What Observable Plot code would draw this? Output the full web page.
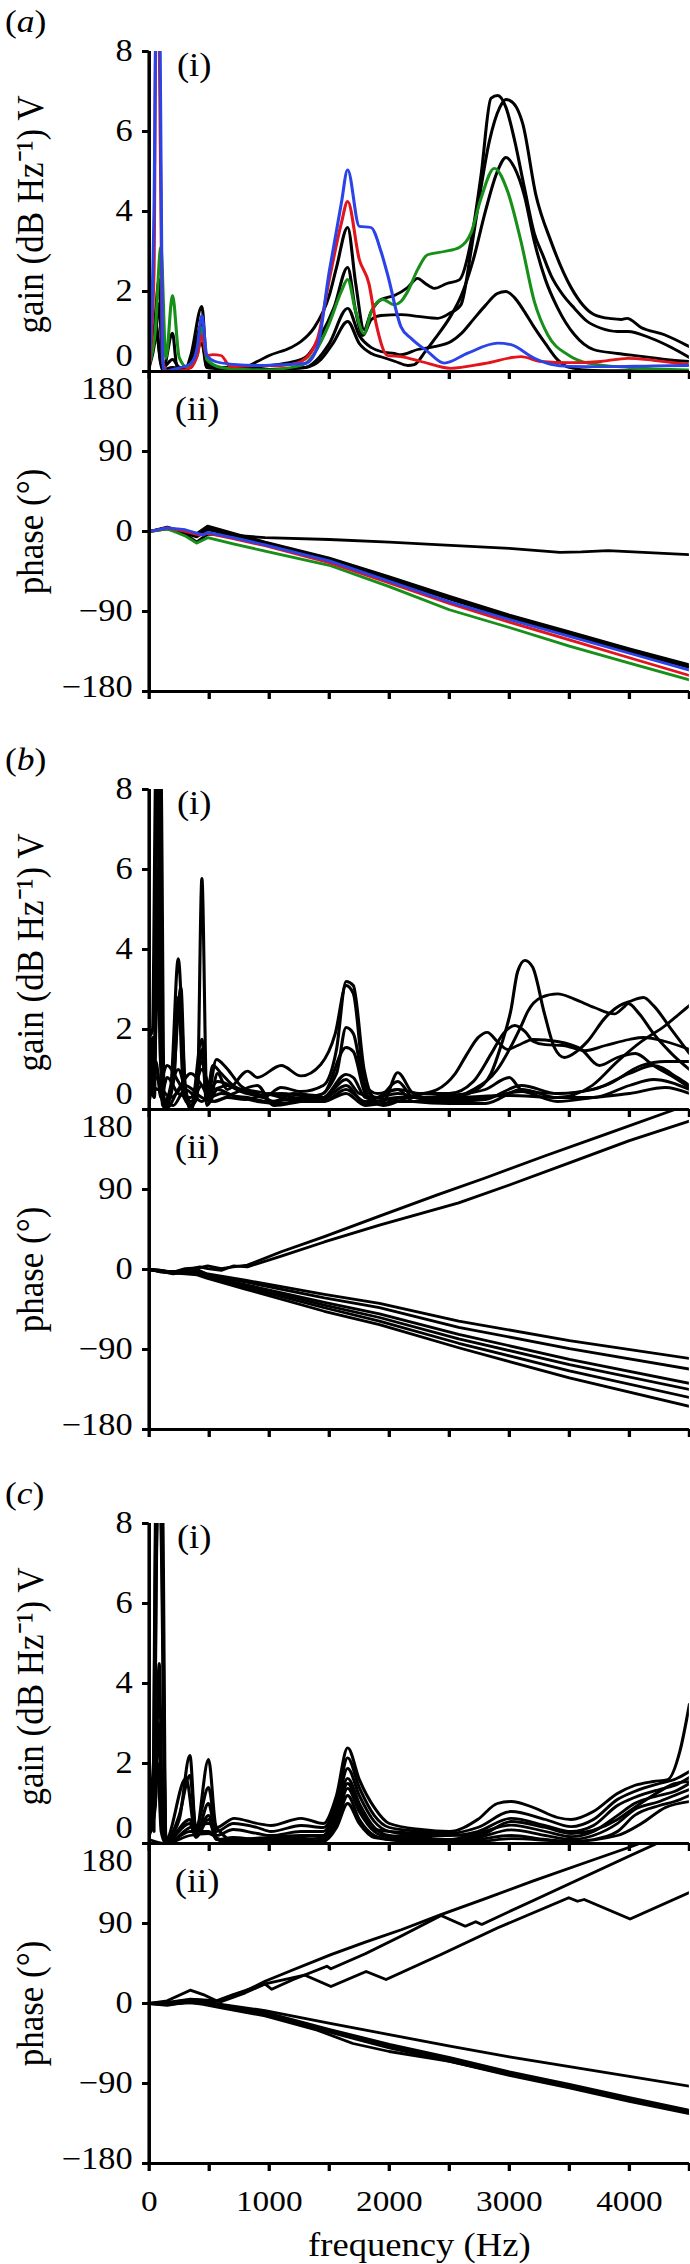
<!DOCTYPE html>
<html><head><meta charset="utf-8">
<script src="https://cdn.jsdelivr.net/npm/d3@7"></script>
<script src="https://cdn.jsdelivr.net/npm/@observablehq/plot@0.6"></script>
<style>
html,body{margin:0;padding:0;background:#fff;overflow:hidden;}
#wrap{position:relative;width:622px;height:2264px;transform:scaleX(1.1093);transform-origin:0 0;}
#wrap svg{position:absolute;left:0;}
</style></head><body><div id="wrap"></div>
<script>
// ---- ticks & labels ----
const freqTicks = [0,500,1000,1500,2000,2500,3000,3500,4000,4500];
const freqLabels = [0,1000,2000,3000,4000];
const gainTicks = [0,2,4,6,8];
const phaseTicks = [-180,-90,0,90,180];
const GAIN_TITLE = "gain (dB Hz⁻¹) V";
const PHASE_TITLE = "phase (°)";
const X_TITLE = "frequency (Hz)";
const panelTags = ["(i)","(ii)"];

// ---- (a) gain: [frequency Hz, gain] ----
const aGainK1 = [[0,0.2],[40,1.0],[83,2.3],[115,0.05],[194,0.96],[230,0.15],[300,0.05],[347,0.4],[439,1.63],[480,0.2],[600,0.1],[800,0.12],[900,0.25],[1000,0.4],[1181,0.6],[1264,0.75],[1375,1.1],[1500,1.9],[1560,2.6],[1653,3.6],[1720,2.2],[1790,1.05],[1850,1.5],[1931,1.8],[2042,1.9],[2153,2.1],[2236,2.33],[2300,2.2],[2375,2.08],[2480,2.2],[2583,2.29],[2680,3.25],[2764,4.9],[2847,6.83],[2903,6.9],[2972,6.6],[3042,5.8],[3125,4.6],[3208,3.45],[3280,2.9],[3347,2.4],[3450,1.9],[3542,1.58],[3650,1.25],[3764,1.08],[3900,1.0],[3986,1.0],[4181,0.83],[4350,0.6],[4500,0.35]];
const aGainK2 = [[0,0.1],[50,0.8],[83,1.7],[115,0.1],[194,0.3],[264,0.05],[347,0.2],[439,1.2],[480,0.15],[600,0.1],[800,0.1],[1000,0.15],[1200,0.25],[1300,0.35],[1430,0.9],[1540,1.6],[1653,2.6],[1720,1.5],[1780,0.9],[1850,1.3],[1931,1.4],[2097,1.42],[2236,1.38],[2403,1.33],[2500,1.45],[2597,1.67],[2680,3.0],[2736,4.08],[2833,5.75],[2920,6.6],[2972,6.8],[3000,6.78],[3060,6.6],[3111,6.2],[3222,4.4],[3347,3.25],[3514,2.1],[3708,1.42],[3850,1.32],[3931,1.3],[3980,1.33],[4097,1.1],[4292,0.92],[4500,0.62]];
const aGainK3 = [[0,0.3],[56,1.2],[97,0.2],[150,0.05],[264,0.1],[347,0.1],[439,0.9],[480,0.1],[700,0.05],[1000,0.05],[1300,0.1],[1400,0.3],[1500,0.7],[1653,1.58],[1750,0.9],[1850,0.6],[1931,0.5],[2042,0.45],[2097,0.42],[2236,0.55],[2375,0.62],[2514,0.75],[2600,0.95],[2700,1.3],[2800,1.65],[2900,1.95],[2972,2.0],[3042,1.85],[3125,1.5],[3208,1.1],[3300,0.7],[3400,0.3],[3500,0.1],[3700,0.03],[4000,0.02],[4500,0.0]];
const aGainK4 = [[0,0.15],[60,0.9],[110,0.05],[194,0.1],[300,0.05],[439,0.7],[480,0.1],[700,0.08],[1000,0.05],[1300,0.1],[1430,0.3],[1530,0.7],[1653,1.25],[1750,0.7],[1850,0.45],[1950,0.35],[2050,0.25],[2153,0.15],[2208,0.17],[2300,0.5],[2375,0.8],[2514,1.4],[2600,1.9],[2700,2.8],[2800,4.0],[2900,5.0],[2972,5.35],[3042,5.1],[3125,4.4],[3208,3.25],[3300,2.3],[3400,1.6],[3542,0.92],[3700,0.55],[3900,0.45],[4100,0.38],[4300,0.3],[4500,0.25]];
const aGainGreen = [[0,0.17],[50,1.0],[97,3.1],[139,0.33],[194,1.9],[250,0.35],[319,0.1],[400,0.4],[439,1.1],[480,0.3],[600,0.1],[800,0.05],[1000,0.04],[1181,0.1],[1300,0.2],[1375,0.45],[1500,1.2],[1600,2.0],[1653,2.3],[1720,1.5],[1790,0.95],[1850,1.5],[1944,1.8],[2042,1.67],[2097,1.75],[2153,2.0],[2236,2.55],[2319,2.92],[2458,3.0],[2583,3.1],[2680,3.46],[2764,4.33],[2875,5.08],[2986,4.5],[3097,3.25],[3208,1.75],[3319,0.92],[3486,0.42],[3653,0.21],[4000,0.1],[4500,0.04]];
const aGainRed = [[0,0.1],[40,2.5],[56,8.6],[83,8.6],[110,0.3],[150,0.0],[264,0.02],[347,0.1],[400,0.4],[439,0.9],[480,0.4],[530,0.42],[597,0.4],[680,0.12],[900,0.15],[1100,0.15],[1264,0.25],[1400,0.8],[1500,2.3],[1600,3.7],[1653,4.25],[1750,2.8],[1830,2.2],[1890,1.2],[1986,0.4],[2097,0.37],[2264,0.25],[2514,0.08],[2792,0.2],[3097,0.37],[3264,0.25],[3500,0.22],[3764,0.25],[3986,0.33],[4200,0.28],[4500,0.17]];
const aGainBlue = [[0,0.17],[40,4.0],[56,8.6],[90,8.6],[110,0.5],[125,0.0],[194,0.05],[264,0.1],[347,0.2],[400,0.6],[439,1.4],[480,0.4],[550,0.25],[700,0.18],[900,0.15],[1100,0.17],[1300,0.2],[1400,0.6],[1500,2.5],[1600,4.2],[1653,5.04],[1750,3.63],[1847,3.6],[1931,3.0],[1986,2.42],[2097,1.12],[2181,0.83],[2319,0.5],[2458,0.21],[2653,0.46],[2903,0.71],[3014,0.67],[3208,0.33],[3347,0.18],[3500,0.13],[3800,0.12],[4200,0.14],[4500,0.15]];

// ---- (a) phase: [frequency Hz, degrees] ----
const aPhaseK1 = [[0,0],[150,5],[300,-1],[400,-2],[487,6],[700,-2],[965,-12],[1500,-30],[2000,-51],[2500,-73],[3000,-94],[3500,-113],[4000,-132],[4500,-150]];
const aPhaseK2 = [[0,0],[150,4],[300,-2],[400,-4],[487,4],[700,-4],[965,-13],[1500,-31],[2000,-52],[2500,-75],[3000,-96],[3500,-115],[4000,-134],[4500,-152]];
const aPhaseK3 = [[0,0],[150,3],[300,-3],[396,-12],[487,-3],[700,-5],[965,-14],[1500,-32],[2000,-54],[2500,-76],[3000,-97],[3500,-116],[4000,-135],[4500,-153]];
const aPhaseFlat = [[0,0],[150,4],[300,-2],[396,-6],[487,2],[700,-4],[965,-7],[1500,-9],[2000,-12],[2431,-15],[3000,-19],[3422,-23.5],[3600,-23],[3822,-21.5],[4500,-26]];
const aPhaseGreen = [[0,0],[150,3],[300,-5],[396,-13],[487,-7],[700,-14],[965,-22],[1500,-38],[2000,-62],[2500,-88],[3000,-108],[3500,-129],[4000,-148],[4500,-167]];
const aPhaseRed = [[0,0],[150,4],[300,0],[420,-4],[487,-2],[700,-8],[965,-16],[1500,-35],[2000,-58],[2500,-81],[3000,-102],[3500,-122],[4000,-142],[4500,-162]];
const aPhaseBlue = [[0,0],[150,4],[300,2],[450,-4],[487,-1],[700,-7],[965,-15],[1500,-33],[2000,-56],[2500,-79],[3000,-99],[3500,-118],[4000,-137],[4500,-156]];

// ---- (b) gain ----
const bGain1 = [[0,1.8],[28,2.0],[56,8.6],[97,8.6],[125,0.2],[180,0.6],[242,3.77],[300,0.6],[347,0.1],[400,0.3],[439,5.78],[480,0.3],[530,1.1],[600,0.9],[700,0.6],[820,0.45],[950,0.3],[1100,0.55],[1264,0.45],[1450,0.6],[1560,1.5],[1640,3.2],[1700,3.1],[1790,1.0],[1875,0.3],[2000,0.25],[2200,0.2],[2400,0.3],[2600,0.35],[2700,0.45],[2847,0.9],[2931,1.6],[3014,2.5],[3069,3.45],[3130,3.73],[3194,3.56],[3292,2.4],[3375,1.55],[3458,1.3],[3560,1.45],[3650,1.7],[3800,2.3],[3920,2.6],[4000,2.7],[4118,2.8],[4200,2.6],[4350,2.0],[4500,1.4]];
const bGain2 = [[0,1.5],[40,0.3],[70,8.6],[85,8.6],[110,0.1],[200,0.8],[264,3.05],[300,0.5],[347,0.0],[439,1.76],[480,0.2],[560,1.25],[640,1.05],[760,0.6],[900,0.4],[1040,0.2],[1200,0.4],[1400,0.35],[1560,0.9],[1640,2.05],[1700,1.9],[1800,0.5],[1900,0.3],[2070,0.4],[2264,0.3],[2500,0.3],[2700,0.5],[2900,1.0],[3000,1.5],[3100,2.1],[3153,2.45],[3264,2.8],[3403,2.89],[3542,2.76],[3708,2.55],[3875,2.39],[3950,2.55],[3990,2.65],[4080,2.4],[4200,1.9],[4350,1.4],[4500,1.0]];
const bGain3 = [[0,0.4],[28,1.8],[45,0.3],[62,8.6],[75,8.6],[97,2.1],[125,0.0],[208,0.8],[242,2.8],[290,0.3],[347,0.1],[439,1.2],[500,0.2],[570,0.9],[650,0.5],[820,0.96],[900,0.8],[1100,1.1],[1264,0.84],[1430,1.13],[1550,1.9],[1640,3.1],[1700,2.9],[1800,0.6],[1900,0.4],[2070,0.5],[2264,0.4],[2500,0.4],[2700,0.7],[2850,1.4],[2950,1.9],[3045,2.1],[3130,1.95],[3200,1.7],[3300,1.62],[3450,1.6],[3625,1.47],[3800,1.6],[4000,1.75],[4118,1.8],[4300,1.7],[4500,1.5]];
const bGain4 = [[0,1.0],[40,0.4],[70,6.0],[90,1.5],[125,0.1],[242,1.0],[347,0.0],[400,0.6],[439,1.5],[480,0.1],[570,0.5],[700,0.35],[820,0.3],[1000,0.2],[1264,0.3],[1450,0.4],[1640,1.55],[1700,1.45],[1800,0.4],[1950,0.1],[2070,0.2],[2200,0.35],[2400,0.5],[2550,0.9],[2650,1.4],[2740,1.8],[2816,1.93],[2900,1.7],[2986,1.5],[3069,1.6],[3200,1.75],[3400,1.7],[3600,1.5],[3750,1.1],[3900,1.3],[4050,1.4],[4200,1.1],[4400,0.75],[4500,0.55]];
const bGain5 = [[0,0.3],[40,0.9],[83,4.0],[110,0.3],[150,0.05],[242,0.5],[347,0.9],[439,0.6],[500,0.3],[600,0.4],[760,0.3],[900,0.2],[1100,0.15],[1264,0.25],[1450,0.3],[1640,0.88],[1700,0.8],[1800,0.3],[1950,0.2],[2070,0.92],[2200,0.4],[2400,0.25],[2600,0.3],[3000,0.35],[3400,0.3],[3690,0.6],[3900,1.2],[4100,1.7],[4300,2.1],[4420,2.4],[4500,2.6]];
const bGain6 = [[0,0.6],[56,1.2],[97,0.3],[150,0.8],[242,0.4],[347,0.3],[439,1.0],[520,0.5],[650,0.6],[760,0.45],[900,0.35],[1100,0.4],[1264,0.35],[1450,0.3],[1640,0.75],[1750,0.4],[1900,0.3],[2070,0.7],[2200,0.3],[2500,0.2],[2800,0.25],[3100,0.6],[3400,0.4],[3700,0.5],[4000,0.9],[4200,1.1],[4400,0.8],[4500,0.6]];
const bGain7 = [[0,0.2],[56,0.8],[110,0.5],[180,0.3],[300,0.6],[439,0.3],[520,0.2],[650,0.3],[800,0.25],[1000,0.4],[1200,0.3],[1450,0.2],[1640,0.5],[1800,0.2],[2070,0.5],[2200,0.2],[2500,0.15],[2800,0.15],[3100,0.5],[3400,0.3],[3700,0.3],[4000,0.6],[4200,0.75],[4500,0.5]];
const bGain8 = [[0,0.8],[70,0.5],[150,1.1],[242,0.7],[347,0.2],[439,0.6],[540,0.2],[700,0.4],[900,0.6],[1040,0.1],[1264,0.2],[1450,0.25],[1640,0.6],[1800,0.15],[2070,0.3],[2200,0.3],[2500,0.35],[2800,0.5],[3000,0.8],[3100,0.5],[3400,0.4],[3800,0.6],[4100,1.1],[4300,1.2],[4500,1.2]];
const bGain9 = [[0,0.4],[60,1.0],[110,0.2],[200,0.1],[300,0.5],[439,0.2],[570,0.7],[760,0.5],[900,0.45],[1100,0.3],[1264,0.2],[1450,0.2],[1640,0.4],[1800,0.1],[2070,0.2],[2200,0.2],[2500,0.25],[2800,0.3],[3100,0.45],[3400,0.2],[3700,0.3],[4000,0.4],[4300,0.55],[4500,0.4]];

// ---- (b) phase ----
const bPhaseUp1 = [[0,0],[100,-2],[200,-3],[300,1],[420,2],[487,4],[600,1],[700,3],[818,5],[1100,20],[1459,37],[1918,60],[2400,84],[2798,103],[3300,128],[3800,152],[4338,178],[4500,186]];
const bPhaseUp2 = [[0,0],[100,-1],[200,-4],[300,-1],[420,3],[487,1],[600,-1],[700,4],[818,3],[1100,15],[1459,31],[1918,50],[2578,75],[3000,95],[3500,120],[4000,145],[4500,167]];
const bPhaseDown1 = [[0,0],[100,-2],[200,-4],[300,-3],[400,-1],[487,-5],[800,-12],[1459,-28],[1918,-38],[2578,-58],[3500,-80],[4500,-100]];
const bPhaseDown2 = [[0,0],[100,-1],[200,-3],[300,-4],[400,0],[487,-6],[800,-14],[1459,-32],[1918,-43],[2578,-65],[3500,-89],[4500,-112]];
const bPhaseDown3 = [[0,0],[100,-2],[200,-2],[300,-2],[400,-2],[487,-7],[800,-17],[1459,-37],[1918,-50],[2578,-73],[3500,-101],[4500,-128]];
const bPhaseDown4 = [[0,0],[100,-3],[200,-4],[300,-1],[400,-3],[487,-8],[800,-18],[1459,-40],[1918,-54],[2578,-78],[3500,-107],[4500,-135]];
const bPhaseDown5 = [[0,0],[100,-2],[200,-5],[300,-3],[400,-4],[487,-9],[800,-20],[1459,-43],[1918,-58],[2578,-83],[3500,-114],[4500,-144]];
const bPhaseDown6 = [[0,0],[100,-1],[200,-4],[300,-5],[400,-6],[487,-10],[800,-22],[1459,-47],[1918,-62],[2578,-88],[3500,-122],[4500,-154]];

// ---- (c) gain ----
const cGain1 = [[0,2.2],[30,0.9],[56,8.6],[110,8.6],[139,0.1],[250,0.6],[339,2.2],[389,0.3],[494,2.1],[560,0.4],[708,0.63],[900,0.5],[1014,0.45],[1264,0.63],[1450,0.5],[1560,1.2],[1653,2.39],[1750,1.6],[1875,0.9],[2000,0.5],[2264,0.35],[2500,0.3],[2736,0.6],[2900,1.0],[3014,1.05],[3200,0.9],[3400,0.65],[3514,0.6],[3700,0.8],[3900,1.25],[4042,1.45],[4200,1.55],[4320,1.6],[4420,2.3],[4500,3.48]];
const cGain2 = [[0,1.0],[30,0.9],[60,8.6],[100,8.6],[139,0.05],[250,0.7],[339,1.7],[389,0.4],[494,1.4],[560,0.3],[700,0.5],[900,0.4],[1014,0.3],[1264,0.45],[1450,0.4],[1560,1.0],[1653,2.14],[1750,1.4],[1875,0.7],[2000,0.4],[2264,0.3],[2500,0.25],[2736,0.4],[3014,0.8],[3300,0.6],[3514,0.42],[3700,0.6],[3900,1.1],[4042,1.3],[4250,1.5],[4375,1.6],[4500,1.8]];
const cGain3 = [[0,0.8],[40,1.5],[70,8.6],[95,8.6],[139,0.1],[306,1.63],[389,0.2],[494,1.0],[560,0.2],[700,0.35],[900,0.25],[1014,0.2],[1264,0.3],[1450,0.3],[1560,0.9],[1653,1.88],[1750,1.2],[1875,0.55],[2000,0.3],[2264,0.2],[2500,0.2],[2736,0.3],[3014,0.63],[3300,0.45],[3514,0.3],[3700,0.45],[3900,0.95],[4042,1.15],[4250,1.35],[4375,1.45],[4500,1.65]];
const cGain4 = [[0,1.5],[40,0.3],[56,6.5],[75,8.6],[90,8.6],[139,0.05],[339,0.6],[389,0.2],[494,0.7],[560,0.1],[700,0.15],[900,0.1],[1014,0.15],[1264,0.2],[1450,0.2],[1560,0.8],[1653,1.63],[1750,1.0],[1875,0.4],[2000,0.2],[2264,0.15],[2500,0.1],[2736,0.25],[3014,0.46],[3300,0.3],[3514,0.17],[3700,0.3],[3900,0.7],[4042,1.0],[4250,1.2],[4375,1.3],[4500,1.5]];
const cGain5 = [[0,0.5],[50,1.0],[83,4.5],[110,0.8],[139,0.05],[339,0.5],[389,0.15],[494,0.6],[560,0.1],[700,0.1],[900,0.05],[1014,0.1],[1264,0.1],[1450,0.15],[1560,0.6],[1653,1.38],[1750,0.8],[1875,0.3],[2000,0.15],[2264,0.1],[2500,0.1],[2736,0.15],[3014,0.34],[3300,0.2],[3514,0.1],[3700,0.2],[3900,0.5],[4042,0.85],[4250,1.05],[4375,1.2],[4500,1.35]];
const cGain6 = [[0,0.2],[50,0.9],[80,3.0],[110,0.5],[139,0.0],[339,0.4],[494,0.5],[700,0.05],[1014,0.05],[1264,0.05],[1450,0.1],[1560,0.5],[1653,1.2],[1750,0.6],[1875,0.2],[2000,0.1],[2264,0.05],[2500,0.05],[2736,0.1],[3014,0.2],[3300,0.1],[3514,0.05],[3700,0.1],[3900,0.3],[4042,0.7],[4250,0.95],[4375,1.05],[4500,1.2]];
const cGain7 = [[0,0.3],[70,2.0],[100,0.3],[139,0.0],[339,0.3],[494,0.3],[600,0.05],[1014,0.02],[1450,0.05],[1560,0.4],[1653,1.0],[1750,0.5],[1875,0.15],[2264,0.05],[2736,0.05],[3014,0.12],[3514,0.05],[3900,0.2],[4100,0.5],[4300,0.9],[4500,1.05]];
const cGain8 = [[0,0.1],[139,0.0],[339,0.2],[494,0.25],[600,0.1],[1014,0.15],[1450,0.2],[1560,0.7],[1653,1.5],[1750,0.9],[1875,0.35],[2264,0.25],[2736,0.2],[3014,0.55],[3300,0.4],[3514,0.25],[3900,0.6],[4042,0.9],[4250,1.3],[4375,1.5],[4500,1.55]];

// ---- (c) phase ----
const cPhaseUpA = [[0,0],[200,2],[342,5],[450,4],[598,3],[800,14],[965,25],[1200,38],[1514,55],[1800,69],[2100,83],[2431,100],[2800,118],[3200,138],[3600,157],[4006,176],[4100,181]];
const cPhaseUpB = [[0,0],[200,1],[400,4],[598,2],[800,12],[965,22],[1020,16],[1200,27],[1480,42],[1514,39],[1800,56],[2100,76],[2431,99],[2633,87],[2720,92],[2770,89],[3200,116],[3600,141],[4000,166],[4228,180],[4300,185]];
const cPhaseUpC = [[0,0],[150,3],[342,15],[450,10],[560,3],[700,10],[965,22],[1294,32],[1514,19],[1807,36],[1973,27],[2431,55],[2900,85],[3495,119],[3568,115],[3623,117],[4006,95],[4500,125]];
const cPhaseDown1 = [[0,0],[150,1],[342,4],[450,2],[600,-1],[965,-8],[1496,-22],[2000,-35],[2505,-48],[3000,-60],[3500,-71],[4000,-82],[4500,-93]];
const cPhaseDown2 = [[0,0],[150,0],[342,3],[450,1],[600,-2],[965,-10],[1496,-29],[2000,-46],[2505,-61],[3000,-77],[3500,-91],[4000,-106],[4500,-120]];
const cPhaseDown3 = [[0,0],[150,-1],[342,2],[450,3],[600,-3],[965,-11],[1496,-31],[2000,-48],[2505,-63],[3000,-79],[3500,-93],[4000,-108],[4500,-122]];
const cPhaseDown4 = [[0,0],[150,0],[342,1],[450,0],[600,-4],[965,-12],[1496,-32],[2000,-50],[2505,-65],[3000,-81],[3500,-95],[4000,-110],[4500,-124]];
const cPhaseDown5 = [[0,0],[150,-1],[342,1],[450,-1],[600,-5],[965,-14],[1400,-30],[1697,-45],[2000,-54],[2505,-65],[3000,-80],[3500,-94],[4000,-109],[4500,-123]];
const cPhaseDown6 = [[0,0],[150,-2],[342,2],[450,0],[600,-3],[965,-11],[1496,-30],[2000,-47],[2505,-62],[3000,-78],[3500,-92],[4000,-107],[4500,-121]];

// ---- colours ----
const BLACK = "#000", RED = "#e3141c", GREEN = "#17901a", BLUE = "#2a44e8";

// ---- layout ----
const W = 622, ML = 134, MR = 1, PH = 320;
const FONT = "'Liberation Serif','Times New Roman',Times,serif";
const STYLE = {background: "transparent", overflow: "visible", fontFamily: FONT, color: "#000"};
const wrap = document.getElementById("wrap");
const intFmt = d => String(d).replace("-", "−");

function place(svg, top) { svg.style.top = top + "px"; wrap.appendChild(svg); }

function lines(series, colors, curve) {
  return series.map((s, i) => Plot.line(s, {x: d => d[0], y: d => d[1], stroke: colors[i], strokeWidth: 2.8, curve, clip: true, strokeLinejoin: "round"}));
}

// italic letter inside the "(a)" style group labels
function italicLetters(svg) {
  const NS = "http://www.w3.org/2000/svg";
  svg.querySelectorAll("text").forEach(t => {
    const s = t.textContent;
    if (/^\([abc]\)$/.test(s)) {
      t.textContent = "";
      const a = document.createElementNS(NS, "tspan"); a.textContent = "(";
      const b = document.createElementNS(NS, "tspan"); b.textContent = s[1]; b.setAttribute("font-style", "italic");
      const c = document.createElementNS(NS, "tspan"); c.textContent = ")";
      t.append(a, b, c);
    }
  });
}

function gainPanel(series, colors, g0, letter) {
  const mt = 46, mb = 12;
  const svg = Plot.plot({
    width: W, height: mt + PH + mb, marginLeft: ML, marginRight: MR, marginTop: mt, marginBottom: mb,
    x: {domain: [0, 4500], label: null}, y: {domain: [0, 8], label: null},
    style: STYLE,
    marks: [
      ...lines(series, colors, "monotone-x"),
      Plot.ruleX([0], {strokeWidth: 3.2}),
      Plot.ruleY([0], {strokeWidth: 3.2}),
      Plot.axisX(freqTicks, {anchor: "bottom", tickSize: 8, strokeWidth: 3, tickFormat: () => "", label: null}),
      Plot.axisY(gainTicks, {anchor: "left", tickSize: 6, strokeWidth: 3, tickFormat: () => "", label: null}),
      Plot.axisY(gainTicks.filter(t => t !== 0), {anchor: "left", tickSize: 0, tickPadding: 15, fontSize: 31, tickFormat: intFmt, label: null}),
      Plot.axisY([0], {anchor: "left", tickSize: 0, tickPadding: 15, dy: -15, fontSize: 31, tickFormat: intFmt, label: null}),
      Plot.text([panelTags[0]], {text: d => d, frameAnchor: "top-left", dx: 25, dy: 14, textAnchor: "start", lineAnchor: "middle", fontSize: 33}),
      Plot.text([GAIN_TITLE], {text: d => d, frameAnchor: "left", rotate: -90, dx: -107, dy: 3, textAnchor: "middle", lineAnchor: "middle", fontSize: 35}),
      Plot.text(["(" + letter + ")"], {text: d => d, frameAnchor: "top-left", dx: -130, dy: -30, textAnchor: "start", lineAnchor: "middle", fontSize: 32})
    ]
  });
  italicLetters(svg);
  place(svg, g0 - mt);
}

function phasePanel(series, colors, g0, last) {
  const mt = 12, mb = last ? 100 : 12;
  const marks = [
    ...lines(series, colors, "linear"),
    Plot.ruleX([0], {strokeWidth: 3.2}),
    Plot.ruleY([-180], {strokeWidth: 3.2}),
    Plot.axisX(freqTicks, {anchor: "bottom", tickSize: 8, strokeWidth: 3, tickFormat: () => "", label: null}),
    Plot.axisY(phaseTicks, {anchor: "left", tickSize: 6, strokeWidth: 3, tickFormat: () => "", label: null}),
    Plot.axisY(phaseTicks.filter(t => Math.abs(t) < 180), {anchor: "left", tickSize: 0, tickPadding: 15, fontSize: 31, tickFormat: intFmt, label: null}),
    Plot.axisY([180], {anchor: "left", tickSize: 0, tickPadding: 15, dy: 18, fontSize: 31, tickFormat: intFmt, label: null}),
    Plot.axisY([-180], {anchor: "left", tickSize: 0, tickPadding: 15, dy: -4, fontSize: 31, tickFormat: intFmt, label: null}),
    Plot.text([panelTags[1]], {text: d => d, frameAnchor: "top-left", dx: 23, dy: 38, textAnchor: "start", lineAnchor: "middle", fontSize: 33}),
    Plot.text([PHASE_TITLE], {text: d => d, frameAnchor: "left", rotate: -90, dx: -107, textAnchor: "middle", lineAnchor: "middle", fontSize: 35})
  ];
  if (last) {
    marks.push(Plot.axisX(freqLabels, {anchor: "bottom", tickSize: 0, tickPadding: 26, fontSize: 30, tickFormat: intFmt, label: null}));
    marks.push(Plot.text([X_TITLE], {text: d => d, frameAnchor: "bottom", dy: 82, textAnchor: "middle", lineAnchor: "middle", fontSize: 33}));
  }
  const svg = Plot.plot({
    width: W, height: mt + PH + mb, marginLeft: ML, marginRight: MR, marginTop: mt, marginBottom: mb,
    x: {domain: [0, 4500], label: null}, y: {domain: [-180, 180], label: null},
    style: STYLE,
    marks
  });
  place(svg, g0 + PH - mt);
}

// group (a)
gainPanel([aGainK1, aGainK2, aGainK3, aGainK4, aGainGreen, aGainRed, aGainBlue],
          [BLACK, BLACK, BLACK, BLACK, GREEN, RED, BLUE], 50.5, "a");
phasePanel([aPhaseFlat, aPhaseK1, aPhaseK2, aPhaseK3, aPhaseGreen, aPhaseRed, aPhaseBlue],
           [BLACK, BLACK, BLACK, BLACK, GREEN, RED, BLUE], 50.5, false);
// group (b)
const bG = [bGain1, bGain2, bGain3, bGain4, bGain5, bGain6, bGain7, bGain8, bGain9];
gainPanel(bG, bG.map(() => BLACK), 789, "b");
const bP = [bPhaseUp1, bPhaseUp2, bPhaseDown1, bPhaseDown2, bPhaseDown3, bPhaseDown4, bPhaseDown5, bPhaseDown6];
phasePanel(bP, bP.map(() => BLACK), 789, false);
// group (c)
const cG = [cGain1, cGain2, cGain3, cGain4, cGain5, cGain6, cGain7, cGain8];
gainPanel(cG, cG.map(() => BLACK), 1523, "c");
const cP = [cPhaseUpA, cPhaseUpB, cPhaseUpC, cPhaseDown1, cPhaseDown2, cPhaseDown3, cPhaseDown4, cPhaseDown5, cPhaseDown6];
phasePanel(cP, cP.map(() => BLACK), 1523, true);
</script></body></html>
